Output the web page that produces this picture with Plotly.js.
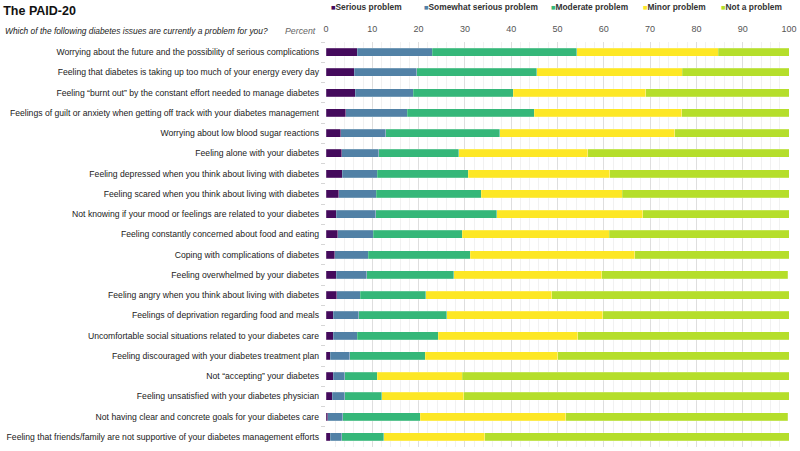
<!DOCTYPE html>
<html>
<head>
<meta charset="utf-8">
<script src="https://cdn.plot.ly/plotly-3.0.1.min.js"></script>
<style>html,body{margin:0;padding:0;background:#fff;}#chart{width:800px;height:451px;}</style>
</head>
<body>
<div id="chart"></div>
<script>
var categories = [
  "Worrying about the future and the possibility of serious complications",
  "Feeling that diabetes is taking up too much of your energy every day",
  "Feeling \u201cburnt out\u201d by the constant effort needed to manage diabetes",
  "Feelings of guilt or anxiety when getting off track with your diabetes management",
  "Worrying about low blood sugar reactions",
  "Feeling alone with your diabetes",
  "Feeling depressed when you think about living with diabetes",
  "Feeling scared when you think about living with diabetes",
  "Not knowing if your mood or feelings are related to your diabetes",
  "Feeling constantly concerned about food and eating",
  "Coping with complications of diabetes",
  "Feeling overwhelmed by your diabetes",
  "Feeling angry when you think about living with diabetes",
  "Feelings of deprivation regarding food and meals",
  "Uncomfortable social situations related to your diabetes care",
  "Feeling discouraged with your diabetes treatment plan",
  "Not \u201caccepting\u201d your diabetes",
  "Feeling unsatisfied with your diabetes physician",
  "Not having clear and concrete goals for your diabetes care",
  "Feeling that friends/family are not supportive of your diabetes management efforts"
];
var seriesNames = ["Serious problem", "Somewhat serious problem", "Moderate problem", "Minor problem", "Not a problem"];
var serious  = [6.8, 6.1, 6.3, 4.3, 3.2, 3.4, 3.5, 2.7, 2.2, 2.5, 1.9, 2.2, 2.3, 1.6, 1.6, 0.9, 1.6, 1.3, 0.4, 0.9];
var somewhat = [16.2, 13.5, 12.5, 13.2, 9.7, 8.0, 7.6, 8.1, 8.5, 7.7, 7.2, 6.6, 5.1, 5.5, 5.2, 4.2, 2.5, 2.7, 3.2, 2.5];
var moderate = [31.2, 25.9, 21.6, 27.5, 24.6, 17.3, 19.6, 22.7, 26.2, 19.2, 22.1, 18.8, 14.1, 19.0, 17.4, 16.3, 7.0, 8.0, 16.8, 9.1];
var minor    = [30.5, 31.4, 28.7, 31.8, 37.8, 27.8, 30.6, 30.5, 31.5, 31.8, 35.5, 32.0, 27.3, 33.7, 30.2, 28.7, 18.3, 17.8, 31.4, 21.8];
var notProb  = [15.3, 23.1, 30.9, 23.2, 24.7, 43.5, 38.7, 36.0, 31.6, 38.8, 33.3, 40.1, 51.2, 40.2, 45.6, 49.9, 70.6, 70.2, 47.9, 65.7];
var colors = ["#440a5c", "#5181a6", "#35b779", "#fde725", "#b5de2b"];

var seriesValues = [serious, somewhat, moderate, minor, notProb];
var font = "Liberation Sans, Arial, sans-serif";

var traces = seriesValues.map(function (vals, i) {
  return {
    type: "bar",
    orientation: "h",
    name: seriesNames[i],
    x: vals,
    y: categories,
    width: 0.4,
    marker: {color: colors[i], line: {color: "rgba(255,255,255,0.5)", width: 0.4}},
    showlegend: false,
    hoverinfo: "x+name"
  };
});

// legend item left edges (pixels) -> paper coords
var legendPx = [329, 422, 549, 641, 719];
var plotL = 326, plotW = 463, plotB = 447, plotH = 405;

var legendAnns = seriesNames.map(function (n, i) {
  return {
    text: '<span style="color:' + colors[i] + ';font-size:7.5px">\u25A0</span><b>' + n + '</b>',
    xref: "paper", yref: "paper",
    x: (legendPx[i] - plotL) / plotW, xanchor: "left",
    y: (plotB - 7) / plotH, yanchor: "middle",
    showarrow: false,
    font: {family: font, size: 8.4, color: "#333"}
  };
});

var layout = {
  width: 800,
  height: 451,
  margin: {l: 326, r: 11, t: 42, b: 4},
  paper_bgcolor: "#ffffff",
  plot_bgcolor: "#ffffff",
  barmode: "stack",
  font: {family: font, size: 8.7, color: "#222"},
  title: {
    text: "<b>The PAID-20</b>",
    font: {family: font, size: 12.5, color: "#111"},
    x: 0.004, xanchor: "left", xref: "container",
    y: 0.977, yanchor: "middle", yref: "container"
  },
  xaxis: {
    side: "top",
    range: [0, 100],
    dtick: 10,
    tick0: 0,
    showgrid: true,
    gridcolor: "#dedede",
    gridwidth: 1,
    zeroline: false,
    showline: false,
    ticks: "outside",
    ticklen: 5,
    tickcolor: "rgba(0,0,0,0)",
    tickfont: {family: font, size: 9, color: "#555"},
    minor: {dtick: 2, showgrid: true, gridcolor: "#f1f1f1", gridwidth: 1},
    fixedrange: true
  },
  yaxis: {
    type: "category",
    autorange: "reversed",
    showgrid: false,
    zeroline: false,
    showline: false,
    tickson: "boundaries",
    ticks: "outside",
    ticklen: 4,
    tickcolor: "#d6d6d6",
    ticklabelstandoff: 6,
    tickfont: {family: font, size: 8.65, color: "#222"},
    fixedrange: true
  },
  annotations: [
    {
      text: "<i>Which of the following diabetes issues are currently a problem for you?</i>",
      xref: "paper", yref: "paper",
      x: (3 - plotL) / plotW, xanchor: "left",
      y: (plotB - 31) / plotH, yanchor: "middle",
      showarrow: false,
      font: {family: font, size: 8.4, color: "#222"}
    },
    {
      text: "<i>Percent</i>",
      xref: "paper", yref: "paper",
      x: 0, xanchor: "right", xshift: -8,
      y: (plotB - 31) / plotH, yanchor: "middle",
      showarrow: false,
      font: {family: font, size: 8.8, color: "#666"}
    }
  ].concat(legendAnns)
};

Plotly.newPlot("chart", traces, layout, {displayModeBar: false, staticPlot: true});
</script>
</body>
</html>
